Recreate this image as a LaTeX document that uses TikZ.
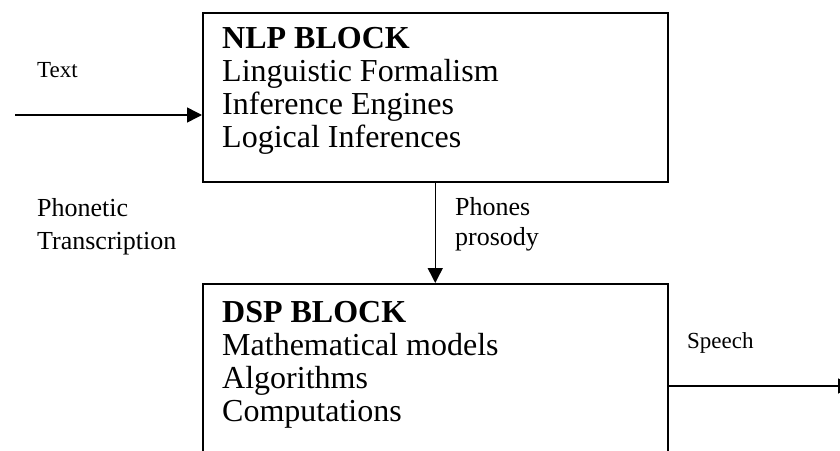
\documentclass[tikz,border=0pt]{standalone}
\usepackage{fontspec}
\setmainfont{Liberation Serif}
\usetikzlibrary{positioning}
\usetikzlibrary{arrows.meta}

\tikzset{
  block/.style={draw, rectangle, line width=1.5pt, minimum width=465pt, inner sep=0pt, anchor=north west},
  blocktext/.style={anchor=north west, align=left, inner sep=0pt, font=\fontsize{32}{33}\selectfont},
  sidetext/.style={anchor=base west, inner sep=0pt, font=\fontsize{23}{27}\selectfont},
  flowtext/.style={anchor=north west, align=left, inner sep=0pt},
  arr/.style={-{Triangle[length=15pt,width=15pt]}, line width=1.5pt},
}

\begin{document}
\begin{tikzpicture}[x=1pt, y=-1pt]
  \useasboundingbox (0,0) rectangle (840,450);
  \clip (0,0) rectangle (840,450);

  % NLP block
  \node[block, minimum height=169pt] (nlp) at (202,12) {};
  \node[blocktext] (nlptext) at (222,27)
    {\textbf{NLP BLOCK}\\Linguistic Formalism\\Inference Engines\\Logical Inferences};

  % DSP block
  \node[block, minimum height=200pt] (dsp) at (202,283) {};
  \node[blocktext] (dsptext) at (222,301)
    {\textbf{DSP BLOCK}\\Mathematical models\\Algorithms\\Computations};

  % Input
  \coordinate (textin) at (15,115);
  \draw[arr] (textin) -- (textin -| nlp.west);
  \node[sidetext] (textlbl) at (37,77) {Text};

  % Between the blocks
  \draw[arr] (nlp.south) -- (dsp.north);
  \node[flowtext, font=\fontsize{26}{33}\selectfont] (phonlbl) at (37,198)
    {Phonetic\\Transcription};
  \node[flowtext, font=\fontsize{26}{30}\selectfont] (phoneslbl) at (455,197)
    {Phones\\prosody};

  % Output
  \coordinate (speechout) at (853,386);
  \draw[arr] (speechout -| dsp.east) -- (speechout);
  \node[sidetext] (speechlbl) at (687,348) {Speech};
\end{tikzpicture}
\end{document}
